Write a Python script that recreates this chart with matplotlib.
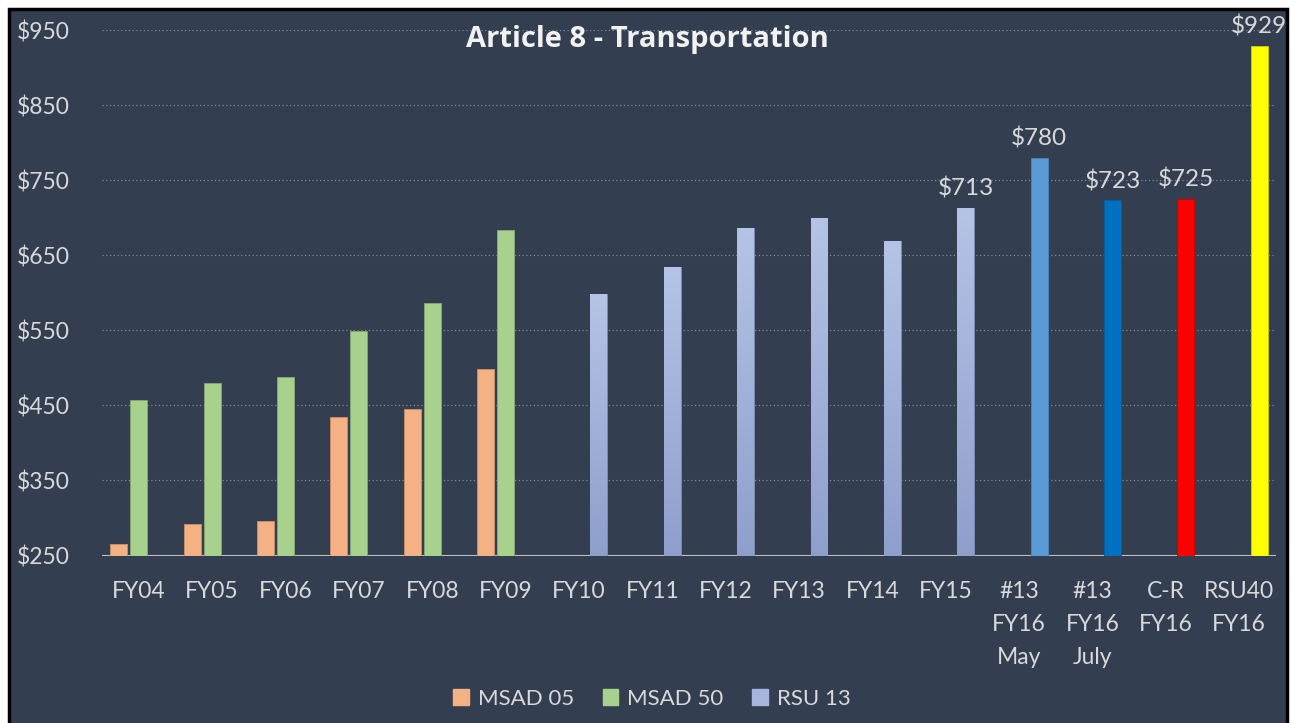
import numpy as np
import matplotlib
matplotlib.use('Agg')
import matplotlib.pyplot as plt
from matplotlib.patches import Rectangle, Patch

categories = ['FY04', 'FY05', 'FY06', 'FY07', 'FY08', 'FY09', 'FY10', 'FY11',
              'FY12', 'FY13', 'FY14', 'FY15', '#13\nFY16\nMay', '#13\nFY16\nJuly',
              'C-R\nFY16', 'RSU40\nFY16']
msad05 = [265, 292, 296, 435, 445, 498]
msad50 = [457, 480, 488, 549, 587, 684]
rsu13 = [598, 634, 686, 700, 669, 713, 780, 723, 725, 929]
labelled = [713, 780, 723, 725, 929]
tick_values = [250, 350, 450, 550, 650, 750, 850, 950]

bg = '#333f50'
txt = '#d9d9d9'
c_orange = '#f4b183'
c_green = '#a9d18e'
c_rsu = '#a6b4de'
special_colors = ['#5b9bd5', '#0070c0', '#ff0000', '#ffff00']

plt.rcParams['font.family'] = ['Lato', 'DejaVu Sans']

fig = plt.figure(figsize=(12.95, 7.23), dpi=100, facecolor='white')
fig.patches.append(Rectangle((9 / 1295, -0.01), 1278 / 1295, 1 - 9 / 723 + 0.01,
                             transform=fig.transFigure, facecolor=bg,
                             edgecolor='black', lw=2.5, zorder=-1))

ax = fig.add_axes([102 / 1295, 1 - 555.5 / 723, 1174 / 1295, 525.5 / 723])
ax.set_facecolor('none')

x = np.arange(len(categories))
w = 0.23
off = 0.272

ax.bar(x[:6] - off, np.array(msad05) - 250, w, bottom=250, color=c_orange,
       edgecolor='#c98f66', lw=0.6, zorder=3)
ax.bar(x[:6], np.array(msad50) - 250, w, bottom=250, color=c_green,
       edgecolor='#86a870', lw=0.6, zorder=3)

xr = x[6:] + off
bars = ax.bar(xr, np.array(rsu13) - 250, w, bottom=250,
              color=[c_rsu] * 6 + special_colors, lw=0.6,
              edgecolor=['#7f8cb5'] * 6 + ['#4a85bd', '#005fa3', '#cc0000', '#cccc00'],
              zorder=3)

# gradient on the plain RSU 13 bars
grad = np.linspace(0, 1, 256).reshape(-1, 1)
cmap = matplotlib.colors.LinearSegmentedColormap.from_list('g', ['#8f9fcc', '#b5c3e6'])
for b, v in zip(bars[:6], rsu13[:6]):
    im = ax.imshow(grad, extent=(b.get_x(), b.get_x() + b.get_width(), 250, v),
                   origin='lower', aspect='auto', cmap=cmap, zorder=3.5)
    im.set_clip_path(b)

for xi, v in zip(xr[5:], labelled):
    ax.text(xi, v + 11, f'${v}', ha='center', va='bottom', color=txt,
            fontsize=17.5, clip_on=False, zorder=5)

ax.set_xlim(-0.5, len(categories) - 0.5)
ax.set_ylim(250, 950)
ax.set_yticks(tick_values)
ax.set_yticklabels([f'${v}' for v in tick_values])
ax.set_xticks(x)
ax.set_xticklabels(categories, linespacing=1.72)
ax.tick_params(axis='y', length=0, pad=61, labelsize=16.5, labelcolor=txt)
ax.tick_params(axis='x', length=0, pad=18, labelsize=16.5, labelcolor=txt)
for t in ax.get_yticklabels():
    t.set_horizontalalignment('left')

ax.grid(axis='y', linestyle=(0, (1, 2)), color='#7d8898', lw=0.9, zorder=1)
for s in ax.spines.values():
    s.set_visible(False)
ax.axhline(250, color='#bfbfbf', lw=1.5, zorder=2)

fig.text(647 / 1295, 1 - 39 / 723, 'Article 8 - Transportation', ha='center',
         va='center', color='#f2f2f2', fontsize=21, fontweight='bold',
         family=['Open Sans', 'DejaVu Sans'])

handles = [Patch(color=c_orange, label='MSAD 05'),
           Patch(color=c_green, label='MSAD 50'),
           Patch(color=c_rsu, label='RSU 13')]
fig.legend(handles=handles, loc='center', bbox_to_anchor=(652 / 1295, 1 - 699 / 723),
           ncol=3, frameon=False, labelcolor=txt, fontsize=16,
           handlelength=0.7, handleheight=0.7, handletextpad=0.4, columnspacing=1.3)

fig.savefig('out.png', dpi=100, facecolor='white')
